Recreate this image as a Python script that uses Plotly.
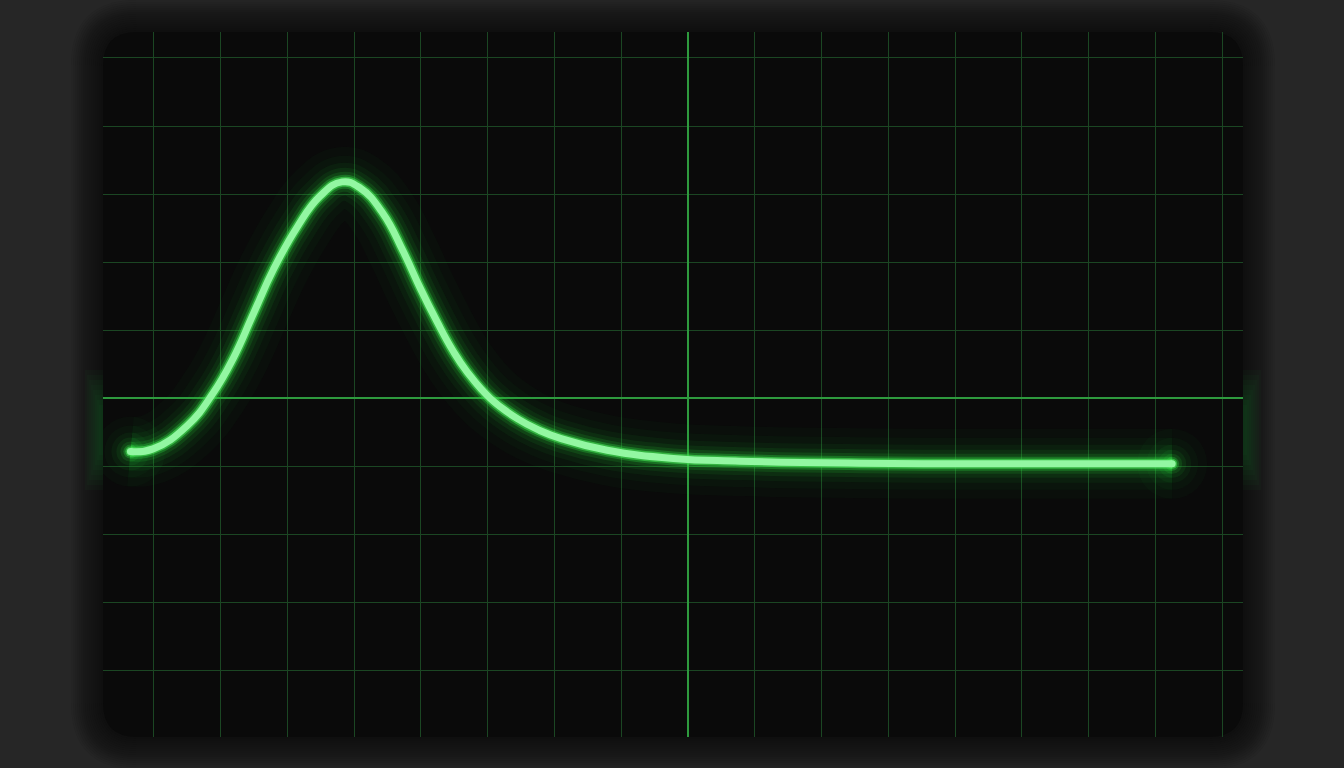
import plotly.graph_objects as go

# trace, in grid divisions (x: time div, y: volts div)
time_div = [-8.35, -8.01, -7.50, -7.11, -6.81, -6.51, -6.21, -5.85, -5.51, -5.18,
            -4.91, -4.57, -4.27, -4.01, -3.76, -3.52, -3.30, -2.96, -2.55, -2.22,
            -1.90, -1.21, -0.22, 0.78, 2.57, 4.67, 7.25]
signal_div = [-0.78, -0.74, -0.40, 0.08, 0.59, 1.24, 1.89, 2.52, 2.97, 3.18,
              3.09, 2.72, 2.17, 1.62, 1.13, 0.70, 0.38, 0.00, -0.30, -0.47,
              -0.59, -0.76, -0.88, -0.92, -0.95, -0.96, -0.96]

BG = '#262626'
SCREEN = '#0a0a0a'

fig = go.Figure()

# glow layers, widest first, then the bright core
glow = [(70, 'rgba(30,190,50,0.03)'),
        (52, 'rgba(30,190,50,0.04)'),
        (38, 'rgba(30,200,50,0.06)'),
        (28, 'rgba(35,205,55,0.09)'),
        (20, 'rgba(40,210,60,0.14)'),
        (14, 'rgba(45,215,65,0.3)'),
        (10, 'rgba(70,225,85,0.6)'),
        (7, '#93f7a2')]
ends_x = [time_div[0], time_div[-1]]
ends_y = [signal_div[0], signal_div[-1]]
for w, c in glow:
    fig.add_trace(go.Scatter(x=time_div, y=signal_div, mode='lines',
                             line=dict(color=c, width=w, shape='spline', smoothing=1.3),
                             hoverinfo='skip', showlegend=False))
    # round caps at both ends
    fig.add_trace(go.Scatter(x=ends_x, y=ends_y, mode='markers',
                             marker=dict(color=c, size=w, line=dict(width=0)),
                             hoverinfo='skip', showlegend=False))


def rounded(x0, y0, x1, y1, r):
    # rounded rectangle path in paper coords (r given as (rx, ry))
    rx, ry = r
    return (f'M {x0+rx},{y0} L {x1-rx},{y0} Q {x1},{y0} {x1},{y0+ry} '
            f'L {x1},{y1-ry} Q {x1},{y1} {x1-rx},{y1} L {x0+rx},{y1} '
            f'Q {x0},{y1} {x0},{y1-ry} L {x0},{y0+ry} Q {x0},{y0} {x0+rx},{y0} Z')


W, H = 1140.0, 705.0   # plot area in px
shapes = []
# soft dark shadow around the screen
for pad in range(32, 0, -2):
    px, py = pad / W, pad / H
    shapes.append(dict(type='path', xref='paper', yref='paper', layer='below',
                       path=rounded(-px, -py, 1 + px, 1 + py, ((34 + pad) / W, (34 + pad) / H)),
                       fillcolor='rgba(14,14,14,0.08)', line=dict(width=0)))
shapes.append(dict(type='path', xref='paper', yref='paper', layer='below',
                   path=rounded(0, 0, 1, 1, (34 / W, 34 / H)),
                   fillcolor=SCREEN, line=dict(width=0)))
# faint green bleed on the left and right edges
for side in (0, 1):
    for k in range(8):
        pad = 18 - 2 * k
        half = 60 - 5 * k
        x0 = -pad / W if side == 0 else 1
        x1 = 0 if side == 0 else 1 + pad / W
        shapes.append(dict(type='rect', xref='paper', yref='paper', layer='below',
                           x0=x0, x1=x1, y0=(737 - 430 - half) / H, y1=(737 - 430 + half) / H,
                           fillcolor='rgba(40,170,60,0.035)', line=dict(width=0)))

fig.update_layout(
    width=1344, height=768,
    margin=dict(l=103, r=101, t=32, b=31),
    paper_bgcolor=BG, plot_bgcolor='rgba(0,0,0,0)',
    shapes=shapes,
    showlegend=False,
)
fig.update_xaxes(range=[-8.76, 8.31], dtick=1, tick0=0, showticklabels=False,
                 showgrid=True, gridcolor='#1b4623', gridwidth=1,
                 zeroline=True, zerolinecolor='#2e9a3e', zerolinewidth=2,
                 showline=False, ticks='')
fig.update_yaxes(range=[-4.97, 5.38], dtick=1, tick0=0, showticklabels=False,
                 showgrid=True, gridcolor='#1b4623', gridwidth=1,
                 zeroline=True, zerolinecolor='#2e9a3e', zerolinewidth=2,
                 showline=False, ticks='')

fig.write_html("out.html", config={'displayModeBar': False},
               post_script="document.body.style.margin='0';"
                           "document.body.style.background='#262626';"
                           "document.body.style.overflow='hidden';")
